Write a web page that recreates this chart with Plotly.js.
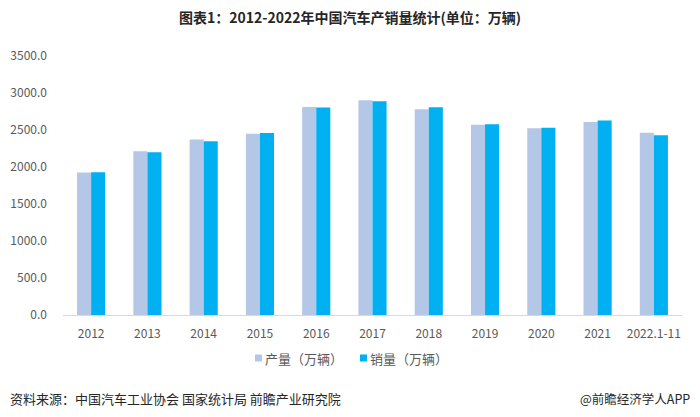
<!DOCTYPE html>
<html><head><meta charset="utf-8">
<script src="https://cdn.plot.ly/plotly-3.0.1.min.js"></script>
<style>html,body{margin:0;padding:0;background:#fff;}#chart{width:700px;height:417px;}</style>
</head><body><div id="chart"></div>
<script>
var categories = ["2012","2013","2014","2015","2016","2017","2018","2019","2020","2021","2022.1-11"];
var production = [1927.2, 2211.7, 2372.3, 2450.3, 2811.9, 2901.5, 2780.9, 2572.1, 2522.5, 2608.2, 2462.0];
var sales      = [1930.6, 2198.4, 2349.2, 2459.8, 2802.8, 2887.9, 2808.1, 2576.9, 2531.1, 2627.5, 2430.0];
var seriesNames = ["产量（万辆）", "销量（万辆）"];
var seriesColors = ["#B4C7E7", "#00B0F0"];
var yTicks = [0, 500, 1000, 1500, 2000, 2500, 3000, 3500];
var yTickLabels = ["0.0","500.0","1000.0","1500.0","2000.0","2500.0","3000.0","3500.0"];

var F = '"Noto Sans CJK SC", "Microsoft YaHei", sans-serif';
var L = 63, W = 619, B = 315, H = 259;
function px(x){ return (x - L) / W; }
function py(y){ return (B - y) / H; }

var data = [
  {type:'bar', name:seriesNames[0], x:categories, y:production, marker:{color:seriesColors[0]}},
  {type:'bar', name:seriesNames[1], x:categories, y:sales, marker:{color:seriesColors[1]}}
];

// custom legend (small squares next to text, like the reference)
var legendX = [255, 360];
var shapes = [], annotations = [];
for (var i = 0; i < 2; i++) {
  shapes.push({type:'rect', xref:'paper', yref:'paper', x0:px(legendX[i]), x1:px(legendX[i]+7), y0:py(361.5), y1:py(354.5), fillcolor:seriesColors[i], line:{width:0}});
  annotations.push({text:seriesNames[i], xref:'paper', yref:'paper', x:px(legendX[i]+8), y:py(358), xanchor:'left', yanchor:'middle', showarrow:false, font:{family:F, size:13, color:'#595959'}});
}
annotations.push({text:'资料来源：中国汽车工业协会 国家统计局 前瞻产业研究院', xref:'paper', yref:'paper', x:px(8), y:py(398), xanchor:'left', yanchor:'middle', showarrow:false, font:{family:F, size:13, color:'#262626'}});
annotations.push({text:'@前瞻经济学人APP', xref:'paper', yref:'paper', x:px(692), y:py(398), xanchor:'right', yanchor:'middle', showarrow:false, font:{family:F, size:12.5, color:'#262626'}});

var layout = {
  width:700, height:417,
  margin:{l:63, r:18, t:56, b:102},
  paper_bgcolor:'#fff', plot_bgcolor:'#fff',
  barmode:'group', bargap:0.5, bargroupgap:0,
  title:{text:'<b>图表1：2012-2022年中国汽车产销量统计(单位：万辆)</b>', x:0.5, xanchor:'center', y:0.957, yanchor:'middle', font:{family:F, size:14, color:'#262626'}},
  xaxis:{type:'category', showgrid:false, showline:true, linecolor:'#D9D9D9', linewidth:1, ticks:'', tickfont:{family:F, size:12, color:'#595959'}, zeroline:false, ticklabelstandoff:8},
  yaxis:{range:[0,3500], tickvals:yTicks, ticktext:yTickLabels, showgrid:false, zeroline:false, showline:false, ticks:'', tickfont:{family:F, size:12, color:'#595959'}, ticklabelstandoff:15},
  showlegend:false,
  shapes:shapes,
  annotations:annotations
};
Plotly.newPlot('chart', data, layout, {displayModeBar:false, staticPlot:true});
</script></body></html>
